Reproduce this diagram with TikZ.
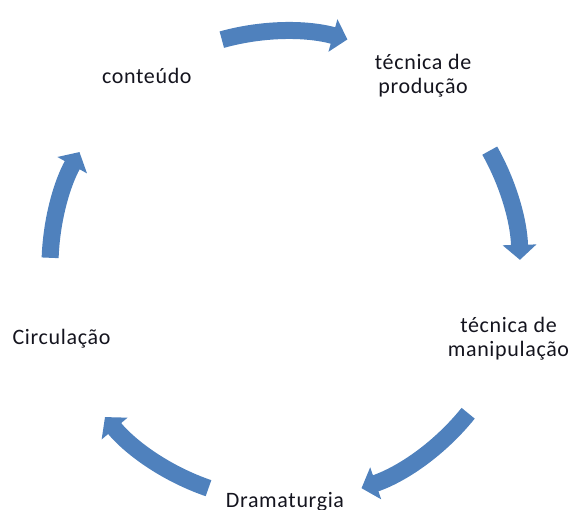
\documentclass[tikz,border=0pt]{standalone}
\usepackage{fontspec}
\setmainfont{Carlito}[LetterSpace=3]
\usetikzlibrary{arrows.meta}
\definecolor{cycleblue}{RGB}{79,129,189}
\definecolor{stagetext}{RGB}{20,20,30}
\tikzset{
  stage/.style={font=\fontsize{22}{24.5}\selectfont, text=stagetext, align=center, inner sep=0pt},
  cyclearrow/.style={cycleblue, line width=17pt,
    -{Triangle[width=33pt,length=15pt]}}
}
\begin{document}
\begin{tikzpicture}[x=1pt,y=1pt]
  \useasboundingbox (0,0) rectangle (577,509);
  \coordinate (c) at (285,243);

  %Stages
  \node[stage] (conteudo) at ([shift={(126:235)}]c) {conteúdo};
  \node[stage] (producao) at ([shift={(54:235)}]c) {técnica de\\produção};
  \node[stage] (manipulacao) at ([shift={(-18:235)}]c) {técnica de\\manipulação};
  \node[stage, anchor=north] (dramaturgia) at ([shift={(-90:226)}]c) {Dramaturgia};
  \node[stage] (circulacao) at ([shift={(-162:235)}]c) {Circulação};

  %Arrows
  \foreach \a/\b in {105.6/74.6, 29.4/1.5, -38.8/-71, -109/-140, 178/151}
    \draw[cyclearrow] ([shift={(\a:235)}]c) arc[start angle=\a, end angle=\b, radius=235];
\end{tikzpicture}
\end{document}
